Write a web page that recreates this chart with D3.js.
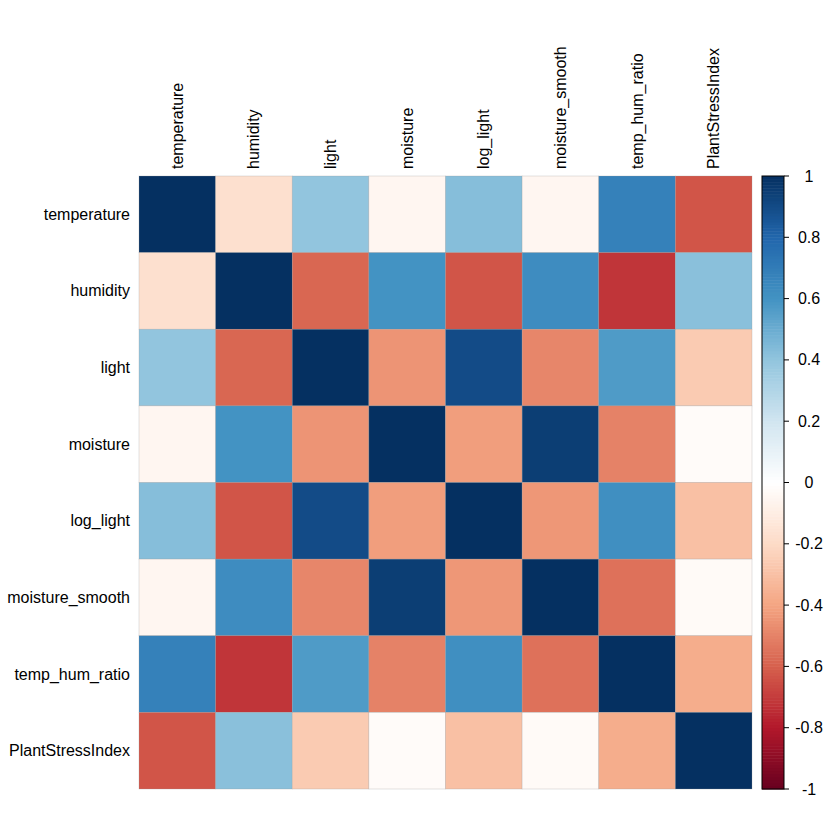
<!DOCTYPE html>
<html><head><meta charset="utf-8">
<script src="https://cdn.jsdelivr.net/npm/d3@7"></script>
<style>body{margin:0;background:#fff;} svg{display:block;font-family:"Liberation Sans",Arial,sans-serif;}</style>
</head><body>
<svg id="chart" width="840" height="840"></svg>
<script>
const variables = ["temperature","humidity","light","moisture","log_light","moisture_smooth","temp_hum_ratio","PlantStressIndex"];
// correlation matrix rows (symmetric)
const rowTemperature = [1, -0.17, 0.40, -0.05, 0.43, -0.05, 0.68, -0.63];
const rowHumidity    = [-0.17, 1, -0.58, 0.60, -0.63, 0.63, -0.72, 0.42];
const rowLight       = [0.40, -0.58, 1, -0.45, 0.90, -0.49, 0.57, -0.26];
const rowMoisture    = [-0.05, 0.60, -0.45, 1, -0.42, 0.95, -0.50, -0.02];
const rowLogLight    = [0.43, -0.63, 0.90, -0.42, 1, -0.44, 0.62, -0.30];
const rowMoistSmooth = [-0.05, 0.63, -0.49, 0.95, -0.44, 1, -0.55, -0.03];
const rowTempHum     = [0.68, -0.72, 0.57, -0.50, 0.62, -0.55, 1, -0.37];
const rowPSI         = [-0.63, 0.42, -0.26, -0.02, -0.30, -0.03, -0.37, 1];
const colorbarTicks = [1, 0.8, 0.6, 0.4, 0.2, 0, -0.2, -0.4, -0.6, -0.8, -1];
const paletteStops = ["#67001F","#B2182B","#D6604D","#F4A582","#FDDBC7","#FFFFFF","#D1E5F0","#92C5DE","#4393C3","#2166AC","#053061"];

const matrix = [rowTemperature,rowHumidity,rowLight,rowMoisture,rowLogLight,rowMoistSmooth,rowTempHum,rowPSI];
const svg = d3.select("#chart");
const gLeft = 139, gTop = 176, gSize = 613;
const fs = 16;
const x = d3.scaleBand().domain(variables).range([gLeft, gLeft+gSize]);
const y = d3.scaleBand().domain(variables).range([gTop, gTop+gSize]);
const color = d3.scaleLinear().domain(d3.range(11).map(i => -1 + i*0.2)).range(paletteStops).interpolate(d3.interpolateRgb);

const cells = [];
matrix.forEach((row,i) => row.forEach((v,j) => cells.push({r: variables[i], c: variables[j], v})));
svg.append("g").selectAll("rect").data(cells).join("rect")
  .attr("x", d => x(d.c)).attr("y", d => y(d.r))
  .attr("width", x.bandwidth()).attr("height", y.bandwidth())
  .attr("fill", d => color(d.v))
  .attr("stroke", "#999").attr("stroke-opacity", 0.45).attr("stroke-width", 0.6);

// labels
svg.append("g").selectAll("text").data(variables).join("text")
  .attr("x", 130).attr("y", d => y(d) + y.bandwidth()/2)
  .attr("text-anchor", "end").attr("dominant-baseline", "central")
  .attr("font-size", fs).attr("fill", "#000").text(d => d);
svg.append("g").selectAll("text").data(variables).join("text")
  .attr("transform", d => `translate(${x(d) + x.bandwidth()/2},169) rotate(-90)`)
  .attr("text-anchor", "start").attr("dominant-baseline", "central")
  .attr("font-size", fs).attr("fill", "#000").text(d => d);

// colorbar
const cbX = 762, cbW = 22;
const cbY = d3.scaleLinear().domain([1, -1]).range([gTop, gTop+gSize]);
const nSteps = 200;
const steps = d3.range(nSteps).map(i => -1 + (i+0.5)*2/nSteps);
svg.append("g").selectAll("rect").data(steps).join("rect")
  .attr("x", cbX).attr("width", cbW)
  .attr("y", d => cbY(d + 1/nSteps)).attr("height", gSize/nSteps + 0.5)
  .attr("fill", d => color(d));
svg.append("rect").attr("x", cbX).attr("y", gTop).attr("width", cbW).attr("height", gSize)
  .attr("fill", "none").attr("stroke", "#000").attr("stroke-width", 1);
const tg = svg.append("g").selectAll("g").data(colorbarTicks).join("g");
tg.append("line").attr("x1", cbX+cbW).attr("x2", cbX+cbW+5)
  .attr("y1", d => cbY(d)).attr("y2", d => cbY(d)).attr("stroke", "#000");
tg.append("text").attr("x", cbX+cbW+25).attr("y", d => cbY(d))
  .attr("text-anchor", "middle").attr("dominant-baseline", "central")
  .attr("font-size", fs).attr("fill", "#000").text(d => d);
</script>
</body></html>
